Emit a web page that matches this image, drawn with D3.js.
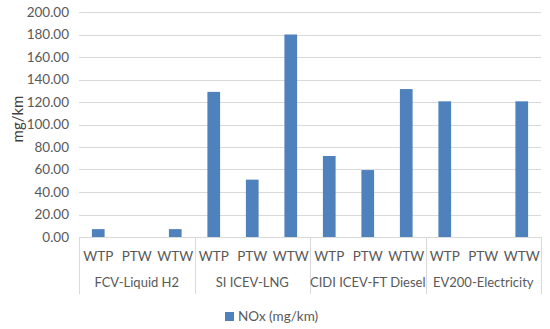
<!DOCTYPE html>
<html>
<head>
<meta charset="utf-8">
<script src="https://cdn.jsdelivr.net/npm/d3@7"></script>
<style>
  body { margin: 0; background: #fff; }
  svg { font-family: Lato, "Open Sans", sans-serif; }
</style>
</head>
<body>
<svg width="550" height="329"></svg>
<script>
const groups = ['FCV-Liquid H2', 'SI ICEV-LNG', 'CIDI ICEV-FT Diesel', 'EV200-Electricity'];
const stages = ['WTP', 'PTW', 'WTW'];
const nox = [
  [7, 0, 7],
  [129, 51, 180],
  [72, 59.5, 131.5],
  [120.6, 0, 120.6]
];
const yTicks = [0, 20, 40, 60, 80, 100, 120, 140, 160, 180, 200];
const seriesName = 'NOx (mg/km)';
const yTitle = 'mg/km';

const svg = d3.select('svg');
const plotLeft = 79, plotRight = 541, plotTop = 12, plotBottom = 237;
const textColor = '#595959';
const barColor = '#4f81bd';

const rows = [];
groups.forEach((g, gi) => stages.forEach((s, si) => rows.push({ key: gi + '-' + s, group: g, stage: s, value: nox[gi][si] })));

const x = d3.scaleBand().domain(rows.map(d => d.key)).range([plotLeft, plotRight]).paddingInner(0.67).paddingOuter(0.335);
const xGroup = d3.scaleBand().domain(groups).range([plotLeft, plotRight]);
const y = d3.scaleLinear().domain([0, 200]).range([plotBottom, plotTop]);

// gridlines
svg.append('g')
  .selectAll('line')
  .data(yTicks)
  .join('line')
  .attr('x1', plotLeft).attr('x2', plotRight)
  .attr('y1', d => Math.round(y(d)) + 0.5).attr('y2', d => Math.round(y(d)) + 0.5)
  .attr('stroke', '#d9d9d9');

// y tick labels
svg.append('g')
  .selectAll('text')
  .data(yTicks)
  .join('text')
  .attr('x', 69).attr('y', d => y(d))
  .attr('dy', '0.35em')
  .attr('text-anchor', 'end')
  .attr('fill', textColor)
  .attr('font-size', 13.5)
  .text(d => d.toFixed(2));

// y title
svg.append('text')
  .attr('transform', 'translate(18,119) rotate(-90)')
  .attr('text-anchor', 'middle')
  .attr('dy', '0.35em')
  .attr('fill', '#404040')
  .attr('font-size', 15)
  .text(yTitle);

// bars
svg.append('g')
  .selectAll('rect')
  .data(rows)
  .join('rect')
  .attr('x', d => x(d.key))
  .attr('width', x.bandwidth())
  .attr('y', d => y(d.value))
  .attr('height', d => y(0) - y(d.value))
  .attr('fill', barColor);

// category axis dividers
const dividers = groups.map(g => xGroup(g)).concat([plotRight]);
svg.append('g')
  .selectAll('line')
  .data(dividers)
  .join('line')
  .attr('x1', d => Math.round(d) + 0.5).attr('x2', d => Math.round(d) + 0.5)
  .attr('y1', plotBottom).attr('y2', 294)
  .attr('stroke', '#d9d9d9');

// stage labels
svg.append('g')
  .selectAll('text')
  .data(rows)
  .join('text')
  .attr('x', d => x(d.key) + x.bandwidth() / 2)
  .attr('y', 256)
  .attr('dy', '0.35em')
  .attr('text-anchor', 'middle')
  .attr('fill', textColor)
  .attr('font-size', 13.5)
  .text(d => d.stage);

// group labels
svg.append('g')
  .selectAll('text')
  .data(groups)
  .join('text')
  .attr('x', d => xGroup(d) + xGroup.bandwidth() / 2)
  .attr('y', 282)
  .attr('dy', '0.35em')
  .attr('text-anchor', 'middle')
  .attr('fill', textColor)
  .attr('font-size', 13)
  .text(d => d);

// legend
const legend = svg.append('g').attr('transform', 'translate(225,312)');
legend.append('rect').attr('width', 9).attr('height', 9).attr('fill', barColor);
legend.append('text')
  .attr('x', 13).attr('y', 4.5)
  .attr('dy', '0.35em')
  .attr('fill', textColor)
  .attr('font-size', 13.5)
  .text(seriesName);
</script>
</body>
</html>
